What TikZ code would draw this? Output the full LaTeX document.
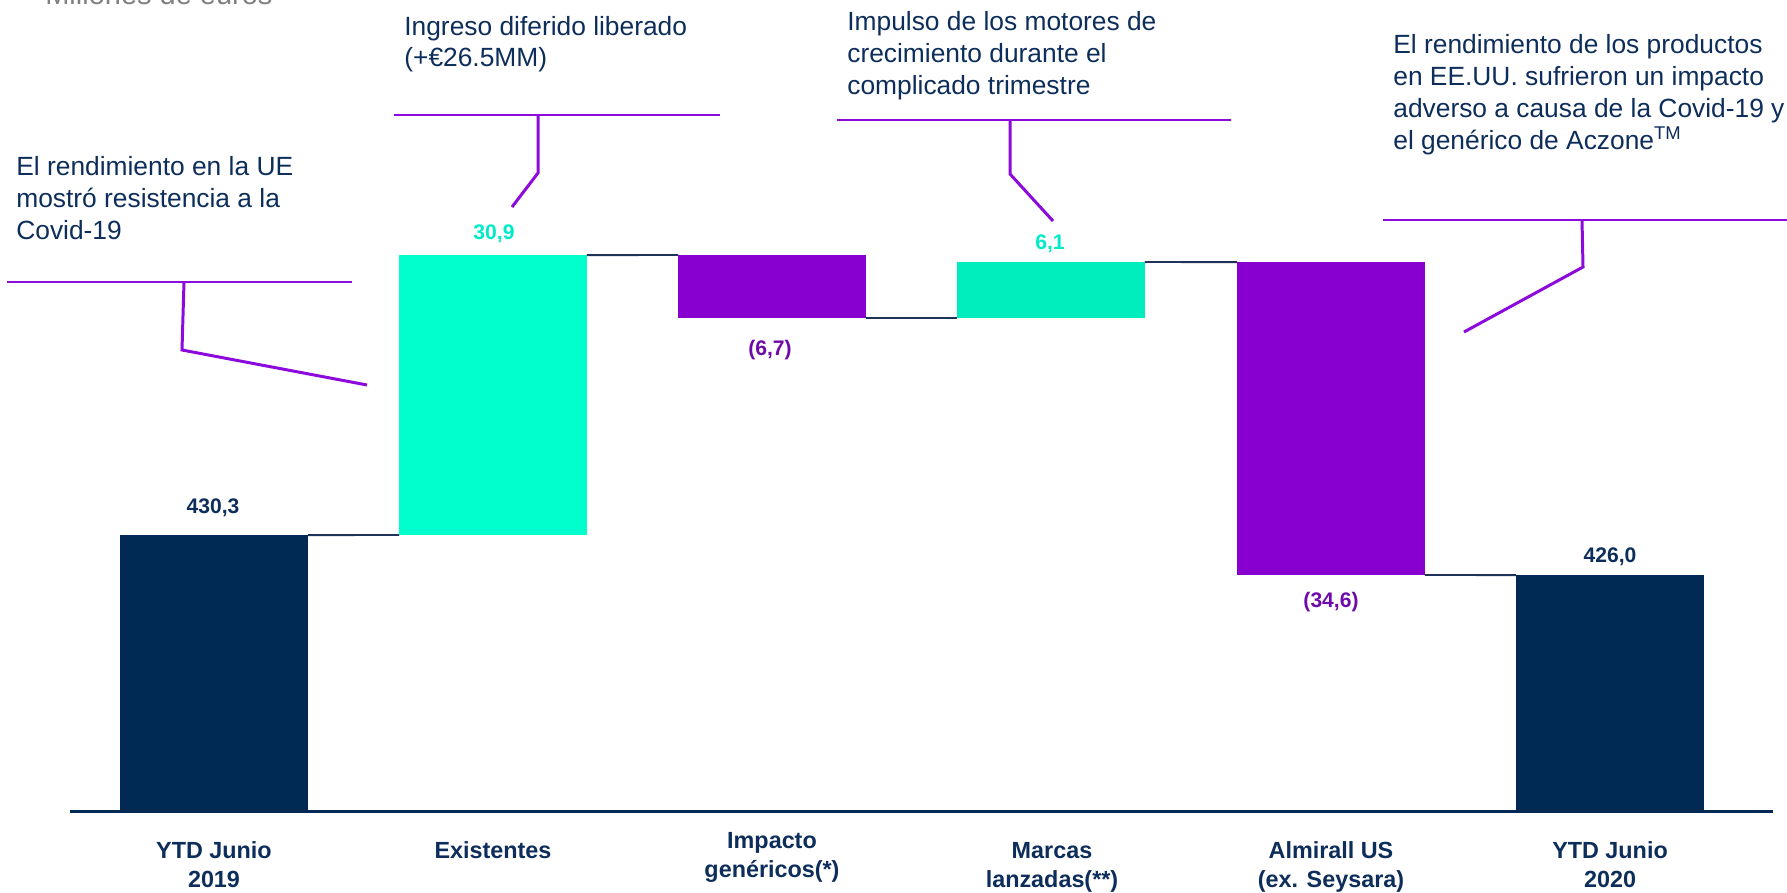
\documentclass[tikz,border=0pt]{standalone}
\usepackage{fontspec}
\setmainfont{Liberation Sans}
\definecolor{navy}{RGB}{0,41,84}
\definecolor{textnavy}{RGB}{13,45,90}
\definecolor{linknavy}{RGB}{30,50,90}
\definecolor{aqua}{RGB}{0,255,204}
\definecolor{aquab}{RGB}{0,237,190}
\definecolor{aquatext}{RGB}{0,235,200}
\definecolor{purp}{RGB}{136,0,208}
\definecolor{purptext}{RGB}{110,10,170}
\definecolor{leadpurple}{RGB}{140,10,220}
\begin{document}
\begin{tikzpicture}[x=0.02cm,y=-0.02cm,
    bar/.style={inner sep=0pt,outer sep=0pt,minimum width=3.76cm,anchor=south west},
    link/.style={draw=linknavy,line width=1.1pt},
    lead/.style={draw=leadpurple,line width=1.7pt},
    note/.style={align=left,anchor=base west,inner sep=0pt,text=textnavy,
      font=\fontsize{15}{18.2}\selectfont},
    cat/.style={align=center,anchor=base,inner sep=0pt,text=textnavy,
      font=\fontsize{13.3}{16.5}\selectfont\bfseries},
    val/.style={anchor=base,inner sep=0pt,font=\fontsize{12}{14}\selectfont\bfseries}]
  \useasboundingbox (0,0) rectangle (1787,892);

  % unit
  \node[anchor=base west,inner sep=0pt,text=gray,font=\fontsize{16.5}{20}\selectfont]
    (unit) at (45,5) {Millones de euros};

  % bars
  \node[bar,fill=navy,minimum height=5.5cm] (b1) at (120,810) {};
  \node[bar,fill=aqua,minimum height=5.6cm] (b2) at (399,535) {};
  \node[bar,fill=purp,minimum height=1.26cm] (b3) at (678,318) {};
  \node[bar,fill=aquab,minimum height=1.12cm] (b4) at (957,318) {};
  \node[bar,fill=purp,minimum height=6.26cm] (b5) at (1237,575) {};
  \node[bar,fill=navy,minimum height=4.7cm] (b6) at (1516,810) {};

  \begin{scope}
    \draw[link] (b1.north east) -- (b2.south west);
    \draw[link] (b2.north east) -- (b3.north west);
    \draw[link] (b3.south east) -- (b4.south west);
    \draw[link] (b4.north east) -- (b5.north west);
    \draw[link] (b5.south east) -- (b6.north west);
  \end{scope}

  % axis
  \coordinate (ax1) at (70,811);
  \coordinate (ax2) at (1773,811);
  \draw[draw=navy,line width=1.7pt] (ax1) -- (ax2);

  % values
  \node[val,text=textnavy] (v1) at (213,513) {430,3};
  \node[val,text=aquatext] (v2) at (494,239) {30,9};
  \node[val,text=purptext] (v3) at (770,355) {(6,7)};
  \node[val,text=aquatext] (v4) at (1050,249) {6,1};
  \node[val,text=purptext] (v5) at (1331,607) {(34,6)};
  \node[val,text=textnavy] (v6) at (1610,562) {426,0};

  % categories (base = last line)
  \node[cat] (c1) at (214,887) {YTD Junio\\2019};
  \node[cat] (c2) at (493,858) {Existentes};
  \node[cat] (c3) at (772,877) {Impacto\\genéricos(*)};
  \node[cat] (c4) at (1052,887) {Marcas\\lanzadas(**)};
  \node[cat] (c5) at (1331,887) {Almirall US\\(ex. Seysara)};
  \node[cat] (c6) at (1610,887) {YTD Junio\\2020};

  % notes (base = last line)
  \node[note] (n1) at (16,239) {El rendimiento en la UE\\mostró resistencia a la\\Covid-19};
  \node[note] (n2) at (404,67) {Ingreso diferido liberado\\(+€26.5MM)};
  \node[note] (n3) at (847,94) {Impulso de los motores de\\crecimiento durante el\\complicado trimestre};
  \node[note] (n4) at (1393,149) {El rendimiento de los productos\\en EE.UU. sufrieron un impacto\\adverso a causa de la Covid-19 y\\el genérico de Aczone\textsuperscript{TM}};

  % leaders
  \coordinate (h1a) at (7,282);    \coordinate (h1b) at (352,282);
  \coordinate (k1) at (184,282);   \coordinate (e1) at (367,385);
  \coordinate (h2a) at (394,115);  \coordinate (h2b) at (720,115);
  \coordinate (k2) at (538,115);   \coordinate (e2) at (512,207);
  \coordinate (h3a) at (837,120);  \coordinate (h3b) at (1231,120);
  \coordinate (k3) at (1010,120);  \coordinate (e3) at (1053,221);
  \coordinate (h4a) at (1383,220); \coordinate (h4b) at (1787,220);
  \coordinate (k4) at (1582,220);  \coordinate (e4) at (1464,332);
  \draw[lead] (h1a) -- (h1b);
  \draw[lead] (k1) -- (182,350) -- (e1);
  \draw[lead] (h2a) -- (h2b);
  \draw[lead] (k2) -- (538,173) -- (e2);
  \draw[lead] (h3a) -- (h3b);
  \draw[lead] (k3) -- (1010,174) -- (e3);
  \draw[lead] (h4a) -- (h4b);
  \draw[lead] (k4) -- (1583,267) -- (e4);
\end{tikzpicture}
\end{document}
